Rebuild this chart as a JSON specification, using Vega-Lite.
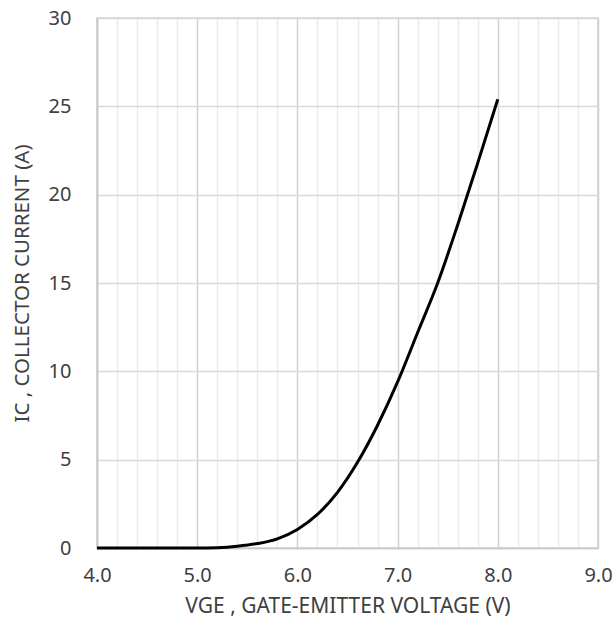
{
  "$schema": "https://vega.github.io/schema/vega-lite/v6.json",
  "autosize": "none",
  "width": 501,
  "height": 530,
  "padding": {"left": 97, "top": 18, "right": 15, "bottom": 80},
  "background": "white",
  "config": {
    "view": {"stroke": "#d0d0d0", "strokeWidth": 1.5},
    "font": "Noto Sans"
  },
  "data": {
    "values": [
      {"vge": 4.0, "ic": 0},
      {"vge": 4.5, "ic": 0},
      {"vge": 5.0, "ic": 0},
      {"vge": 5.2, "ic": 0.02},
      {"vge": 5.4, "ic": 0.1},
      {"vge": 5.6, "ic": 0.25},
      {"vge": 5.8, "ic": 0.52},
      {"vge": 6.0, "ic": 1.05},
      {"vge": 6.2, "ic": 1.9},
      {"vge": 6.4, "ic": 3.15},
      {"vge": 6.6, "ic": 4.85},
      {"vge": 6.8, "ic": 6.95},
      {"vge": 7.0, "ic": 9.4},
      {"vge": 7.2, "ic": 12.2},
      {"vge": 7.4, "ic": 15.0},
      {"vge": 7.6, "ic": 18.3},
      {"vge": 7.8, "ic": 21.8},
      {"vge": 8.0, "ic": 25.4}
    ]
  },
  "layer": [
    {
      "mark": {"type": "line", "opacity": 0},
      "encoding": {
        "x": {
          "field": "vge", "type": "quantitative",
          "scale": {"domain": [4, 9], "nice": false, "zero": false},
          "axis": {
            "orient": "bottom",
            "values": [4.2, 4.4, 4.6, 4.8, 5.2, 5.4, 5.6, 5.8, 6.2, 6.4, 6.6, 6.8, 7.2, 7.4, 7.6, 7.8, 8.2, 8.4, 8.6, 8.8],
            "labels": false, "ticks": false, "domain": false, "title": null,
            "grid": true, "gridColor": "#ebebeb", "gridWidth": 1.5
          }
        },
        "y": {
          "field": "ic", "type": "quantitative",
          "scale": {"domain": [0, 30], "nice": false},
          "axis": {
            "orient": "left",
            "values": [0, 5, 10, 15, 20, 25, 30],
            "title": "IC , COLLECTOR CURRENT (A)",
            "grid": true, "gridColor": "#d9d9d9", "gridWidth": 1.5,
            "domain": true, "domainColor": "#c8c8c8", "domainWidth": 1.5,
            "ticks": false,
            "labelPadding": 26,
            "labelFontSize": 20, "labelColor": "#404040",
            "titleFontSize": 20.5, "titleFontWeight": "normal", "titleColor": "#404040",
            "titlePadding": 16
          }
        }
      }
    },
    {
      "mark": {"type": "line", "color": "black", "strokeWidth": 3, "interpolate": "monotone"},
      "encoding": {
        "x": {
          "field": "vge", "type": "quantitative",
          "scale": {"domain": [4, 9], "nice": false, "zero": false},
          "axis": {
            "orient": "bottom",
            "values": [4, 5, 6, 7, 8, 9],
            "format": ".1f",
            "title": "VGE , GATE-EMITTER VOLTAGE (V)",
            "grid": true, "gridColor": "#d0d0d0", "gridWidth": 1.5,
            "domain": true, "domainColor": "#c8c8c8", "domainWidth": 1.5,
            "ticks": false,
            "labelFlush": false, "labelBound": false, "labelOverlap": false,
            "labelPadding": 17,
            "labelFontSize": 20, "labelColor": "#404040",
            "titleFontSize": 21, "titleFontWeight": "normal", "titleColor": "#404040",
            "titlePadding": 10
          }
        },
        "y": {
          "field": "ic", "type": "quantitative",
          "scale": {"domain": [0, 30], "nice": false}
        }
      }
    }
  ],
  "resolve": {"axis": {"x": "independent"}}
}
